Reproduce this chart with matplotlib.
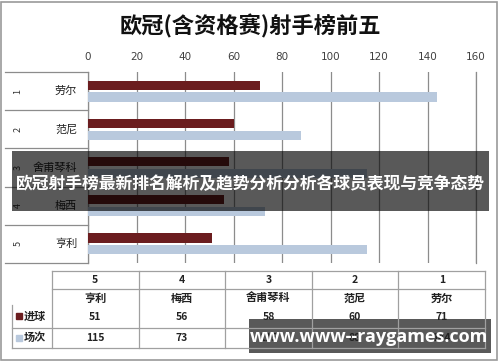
import numpy as np
import matplotlib
matplotlib.use('Agg')
import matplotlib.pyplot as plt
from matplotlib.patches import Rectangle
from matplotlib.transforms import blended_transform_factory as btf

plt.rcParams['font.family'] = ['Noto Sans CJK SC', 'DejaVu Sans']

# ---- data ----
ranks = ['1', '2', '3', '4', '5']
players = ['劳尔', '范尼', '舍甫琴科', '梅西', '亨利']
goals = [71, 60, 58, 56, 51]
matches = [144, 88, 115, 73, 115]
xticks = [0, 20, 40, 60, 80, 100, 120, 140, 160]
series_names = ['进球', '场次']
title = '欧冠(含资格赛)射手榜前五'
banner = '欧冠射手榜最新排名解析及趋势分析分析各球员表现与竞争态势'
watermark = 'www.www--raygames.com'

colors = ['#6b1d1f', '#b9c9dd']
grid_c = '#8c8c8c'
W, H = 500, 362

fig = plt.figure(figsize=(W / 100, H / 100), dpi=100)
fig.patch.set_facecolor('white')


def box(l, t, r, b):
    return [l / W, 1 - b / H, (r - l) / W, (b - t) / H]


ax = fig.add_axes(box(88, 72, 476, 263))
y = np.arange(len(players))
ax.barh(y - 0.155, goals, height=0.24, color=colors[0], zorder=3)
ax.barh(y + 0.155, matches, height=0.24, color=colors[1], zorder=3)
ax.set_xlim(0, 160)
ax.set_ylim(len(players) - 0.5, -0.5)
ax.set_xticks(xticks)
ax.xaxis.tick_top()
ax.tick_params(axis='x', length=0, pad=7, labelsize=7.5, labelcolor='#404040')
for lab in ax.get_xticklabels():
    lab.set_family('DejaVu Sans')
ax.set_yticks([])
ax.grid(axis='x', color=grid_c, lw=0.9, zorder=1)
for s in ['top', 'bottom']:
    ax.spines[s].set_visible(False)
for s in ['left', 'right']:
    ax.spines[s].set_color(grid_c)
    ax.spines[s].set_linewidth(0.9)

trans = btf(ax.transAxes, ax.transData)
for i, (r, p) in enumerate(zip(ranks, players)):
    ax.text(-0.028, i, p, transform=trans, ha='right', va='center',
            fontsize=8, color='#222222', clip_on=False)
    ax.text(-0.18, i, r, transform=trans, ha='center', va='center',
            rotation=90, fontsize=6.5, color='#333333', clip_on=False)
for b in np.arange(-0.5, len(players)):
    ax.plot([-0.214, 0], [b, b], transform=trans, color=grid_c, lw=0.9,
            clip_on=False)

# ---- overlay ----
ov = fig.add_axes([0, 0, 1, 1], zorder=5)
ov.set_xlim(0, W)
ov.set_ylim(H, 0)
ov.axis('off')
ov.patch.set_alpha(0)

ov.add_patch(Rectangle((0.5, 1.5), 496.5, 358.5, fill=False, ec='#9a9a9a', lw=1.2))
ov.text(250, 26, title, ha='center', va='center', fontsize=16,
        weight=900, color='#111111')

# data table
edges = np.linspace(52, 485, len(players) + 1)
tc = '#a0a0a0'
for yy in [271, 289]:
    ov.plot([52, 485], [yy, yy], color=tc, lw=0.9)
for yy in [328, 348]:
    ov.plot([12, 485], [yy, yy], color=tc, lw=0.9)
for xx in edges:
    ov.plot([xx, xx], [271, 348], color=tc, lw=0.9)
ov.plot([12, 12], [305, 348], color=tc, lw=0.9)

order = list(range(len(players)))[::-1]
for j, i in enumerate(order):
    cx = (edges[j] + edges[j + 1]) / 2
    ov.text(cx, 280, ranks[i], ha='center', va='center', fontsize=7.5,
            weight='bold', color='#222222')
    ov.text(cx, 298, players[i], ha='center', va='center', fontsize=8,
            weight='bold', color='#222222')
    ov.text(cx, 317, str(goals[i]), ha='center', va='center', fontsize=7.5,
            weight='bold', color='#222222')
    ov.text(cx, 338, str(matches[i]), ha='center', va='center', fontsize=7.5,
            weight='bold', color='#222222')

for k, (name, yy) in enumerate(zip(series_names, [316, 338])):
    ov.add_patch(Rectangle((16, yy - 3), 6, 6, color=colors[k]))
    ov.text(24, yy, name, ha='left', va='center', fontsize=8,
            weight='bold', color='#222222')

# banner overlay
ov.add_patch(Rectangle((12, 151), 477, 60, fc='black', alpha=0.65, lw=0))
ov.text(250.5, 184, banner, ha='center', va='center', fontsize=12.1,
        weight='bold', color='white')

# watermark
ov.add_patch(Rectangle((249, 319), 242, 34, fc='black', alpha=0.65, lw=0))
ov.text(369, 337, watermark, ha='center', va='center', fontsize=13,
        weight='bold', color='white', family=['Open Sans', 'DejaVu Sans'])

fig.savefig('out.png', dpi=100)
